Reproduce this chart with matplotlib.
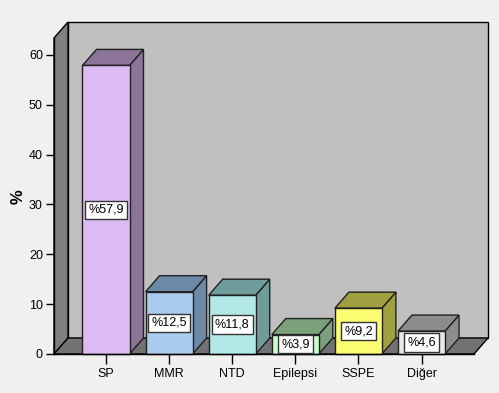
import matplotlib
matplotlib.use("Agg")
import matplotlib.pyplot as plt
from matplotlib.patches import Polygon

categories = ["SP", "MMR", "NTD", "Epilepsi", "SSPE", "Diğer"]
values = [57.9, 12.5, 11.8, 3.9, 9.2, 4.6]
labels = ["%57,9", "%12,5", "%11,8", "%3,9", "%9,2", "%4,6"]
front_colors = ["#dcbbf2", "#aacbee", "#b2e8e6", "#ccfdcc", "#fcfc72", "#e8e8e8"]
side_colors = ["#8c7498", "#6c8aa6", "#6f9c9a", "#7ca07c", "#a0a040", "#8c8c8c"]
yticks = [0, 10, 20, 30, 40, 50, 60]

plt.rcParams['font.family'] = ['Liberation Sans', 'DejaVu Sans']

W, H = 499, 393
fig = plt.figure(figsize=(W / 100, H / 100), dpi=100)
fig.patch.set_facecolor("#f0f0f0")

left_px, right_px, bottom_px, top_px = 54, 474, 354, 38
ax = fig.add_axes([left_px / W, (H - bottom_px) / H,
                   (right_px - left_px) / W, (bottom_px - top_px) / H])
x0, x1 = -0.824, 5.832
ytop = 63.4
ax.set_xlim(x0, x1)
ax.set_ylim(0, ytop)
ax.set_facecolor("none")

ppx = (right_px - left_px) / (x1 - x0)
ppy = (bottom_px - top_px) / ytop
dx = 14 / ppx
dy = 16 / ppy
w = 0.745

edge = "#202020"
# back wall
ax.add_patch(Polygon([(x0 + dx, dy), (x0 + dx, ytop + dy), (x1 + dx, ytop + dy), (x1 + dx, dy)],
                     closed=True, facecolor="#c0c0c0", edgecolor="black", lw=1.0, clip_on=False, zorder=1))
# left wall
ax.add_patch(Polygon([(x0, 0), (x0, ytop), (x0 + dx, ytop + dy), (x0 + dx, dy)],
                     closed=True, facecolor="#808080", edgecolor="black", lw=1.0, clip_on=False, zorder=1))
# floor
ax.add_patch(Polygon([(x0, 0), (x1, 0), (x1 + dx, dy), (x0 + dx, dy)],
                     closed=True, facecolor="#727272", edgecolor="black", lw=1.0, clip_on=False, zorder=1))

for i, (v, lab, fc, sc) in enumerate(zip(values, labels, front_colors, side_colors)):
    l, r = i - w / 2, i + w / 2
    ax.add_patch(Polygon([(r, 0), (r + dx, dy), (r + dx, v + dy), (r, v)], closed=True,
                         facecolor=sc, edgecolor=edge, lw=1.0, clip_on=False, zorder=2))
    ax.add_patch(Polygon([(l, v), (l + dx, v + dy), (r + dx, v + dy), (r, v)], closed=True,
                         facecolor=sc, edgecolor=edge, lw=1.0, clip_on=False, zorder=2))
    ax.add_patch(Polygon([(l, 0), (l, v), (r, v), (r, 0)], closed=True,
                         facecolor=fc, edgecolor=edge, lw=1.0, clip_on=False, zorder=3))
    ax.text(i, v / 2, lab, ha="center", va="center", fontsize=9, zorder=5,
            bbox=dict(boxstyle="square,pad=0.25", facecolor="white", edgecolor="#333333", lw=1.0))

for s in ["top", "right"]:
    ax.spines[s].set_visible(False)
for s in ["left", "bottom"]:
    ax.spines[s].set_color("black")
    ax.spines[s].set_linewidth(1.0)
    ax.spines[s].set_zorder(4)

ax.set_yticks(yticks)
ax.set_yticklabels([str(t) for t in yticks])
ax.set_xticks(range(len(categories)))
ax.set_xticklabels(categories)
ax.tick_params(axis="y", length=6, width=1, pad=2, labelsize=9, colors="black")
ax.tick_params(axis="x", length=7, width=1, pad=3, labelsize=9, colors="black")

fig.text(18 / W, 1 - 197 / H, "%", rotation=90, ha="center", va="center",
         fontsize=12, fontweight="bold")

fig.savefig("out.png", dpi=100, facecolor=fig.get_facecolor())
